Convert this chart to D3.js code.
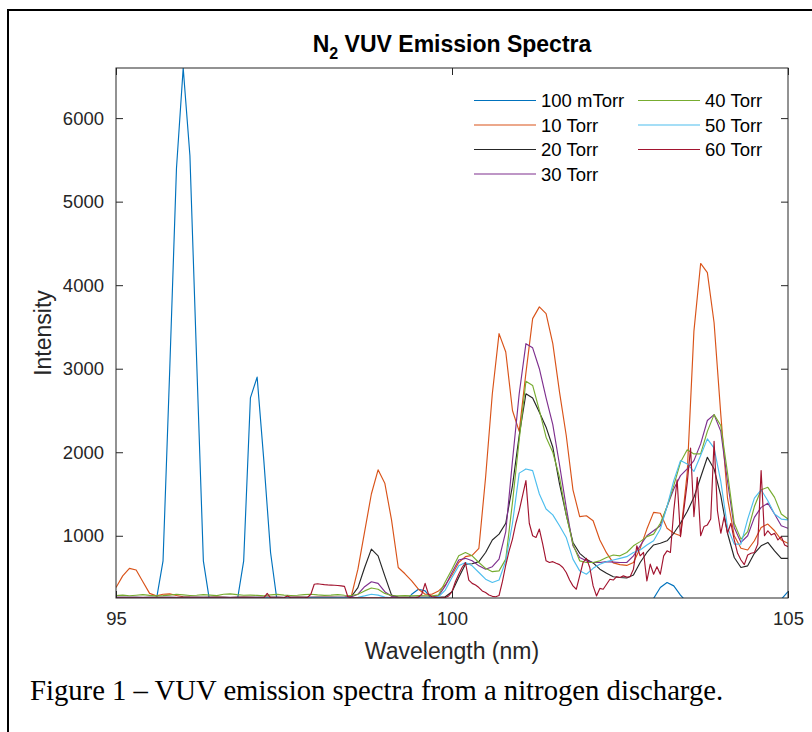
<!DOCTYPE html>
<html>
<head>
<meta charset="utf-8">
<script src="https://cdn.jsdelivr.net/npm/d3@7"></script>
<style>
  html, body { margin: 0; padding: 0; background: #ffffff; }
  svg { display: block; }
</style>
</head>
<body>
<svg id="chart" width="812" height="732"></svg>
<script>
// Sampling grids of the spectrometer scans (nm)
const gridStart = 95.0;
const coarseStep = 0.1;   // 101 samples, 95.0 – 105.0 nm
const fineStep = 0.05;    // 201 samples, used by the 60 Torr scan

const xTicks = [95, 100, 105];
const yTicks = [1000, 2000, 3000, 4000, 5000, 6000];

const seriesNames = ["100 mTorr", "10 Torr", "20 Torr", "30 Torr", "40 Torr", "50 Torr", "60 Torr"];
const seriesColors = ["#0072BD", "#D95319", "#262626", "#7E2F8E", "#77AC30", "#4DBEEE", "#A2142F"];

// Intensity (counts), one value per coarse grid step
const p100mTorr = [
  200,200,200,200,200,200,230,700,3000,5400,
  6600,5550,3100,700,180,200,200,200,200,700,
  2650,2900,1900,800,200,180,200,200,200,200,
  200,200,200,200,200,200,200,200,200,200,
  200,200,200,200,300,360,340,240,200,200,
  200,200,200,200,200,200,200,200,200,200,
  200,200,200,200,200,200,200,200,200,200,
  200,200,200,200,200,200,200,200,200,200,
  250,380,440,400,290,200,200,200,200,200,
  200,200,200,200,200,200,200,200,200,240,
  330
];
const p10Torr = [
  380,520,610,590,450,310,280,300,305,285,
  270,265,262,260,262,265,262,260,262,265,
  262,260,262,264,262,260,262,265,262,260,
  262,264,262,260,262,270,600,1050,1500,1790,
  1630,1190,620,545,460,360,300,300,340,410,
  530,680,750,765,850,1700,2700,3420,3200,2500,
  2250,2950,3600,3740,3660,3300,2720,2200,1550,1230,
  1240,1180,950,795,675,655,645,680,850,1080,
  1280,1270,1090,1030,1000,1750,3450,4260,4150,3550,
  2450,1450,1000,850,830,940,1100,1140,1060,950,
  910
];
const p20Torr = [
  262,262,263,262,261,262,263,262,262,261,
  262,262,262,263,262,262,262,261,262,262,
  262,263,262,262,262,261,262,262,263,262,
  262,262,262,262,262,270,380,620,840,760,
  520,290,265,262,262,262,262,262,263,270,
  330,500,660,665,690,800,950,1020,1150,1600,
  2200,2700,2650,2480,2300,2060,1620,1250,920,790,
  720,675,600,550,510,500,495,530,680,800,
  890,910,940,1030,1150,1290,1460,1700,1940,1800,
  1480,1030,740,620,640,790,880,920,820,730,
  730
];
const p30Torr = [
  262,263,262,264,262,263,262,262,264,263,
  262,263,264,262,263,262,262,263,262,264,
  263,262,262,264,263,262,263,262,262,263,
  262,264,263,262,263,268,300,390,450,430,
  330,275,265,263,262,263,264,263,280,400,
  560,710,730,700,640,600,630,720,1050,1900,
  2700,3300,3250,3000,2650,2330,1850,1340,880,740,
  700,680,680,690,685,680,680,760,880,1000,
  1060,1120,1350,1560,1720,1800,1900,2100,2380,2450,
  2250,1650,1100,920,1000,1220,1340,1390,1260,1120,
  1090
];
const p40Torr = [
  285,290,282,288,295,286,280,284,290,300,
  292,285,288,296,290,284,300,305,295,288,
  290,286,282,292,298,290,285,288,295,300,
  292,286,290,296,288,285,300,340,375,360,
  310,285,280,283,280,285,282,280,290,450,
  600,760,800,760,680,610,570,580,720,1400,
  2150,2850,2800,2500,2180,2000,1700,1250,900,700,
  680,680,700,740,770,760,800,880,930,990,
  1020,1150,1350,1600,1880,2030,1980,1980,2250,2450,
  2320,1750,1150,960,1050,1350,1550,1580,1460,1260,
  1200
];
const p50Torr = [
  258,258,258,258,258,258,258,258,258,258,
  258,258,258,258,258,258,258,258,258,258,
  258,258,258,258,258,258,258,258,258,258,
  258,258,258,258,258,258,262,280,300,290,
  265,258,258,258,258,258,258,258,270,350,
  500,640,680,640,560,480,440,470,700,1150,
  1750,1800,1780,1500,1320,1250,1120,980,720,580,
  540,610,660,690,710,730,750,800,830,890,
  940,1080,1350,1660,1900,1860,1770,1960,2160,2050,
  1650,1100,900,900,1200,1450,1550,1420,1260,1200,
  1190
];
// 60 Torr, one value per fine grid step
const p60Torr = [
  258,258,258,258,258,258,258,258,258,258,
  258,258,258,258,258,258,258,258,258,258,
  258,258,258,258,258,258,258,258,258,258,
  258,258,258,258,258,258,258,258,258,258,
  258,258,258,258,258,310,258,258,258,258,
  258,280,258,258,258,258,258,262,300,420,
  425,420,415,412,410,408,405,400,395,270,
  258,258,258,258,258,258,258,258,258,258,
  258,258,258,258,258,258,258,258,258,258,
  265,300,430,300,270,262,258,258,262,280,
  330,450,540,620,680,470,430,410,380,340,
  320,290,275,270,285,450,650,820,960,1150,
  1300,1480,1660,1150,1000,980,1080,900,700,680,
  690,670,655,620,560,470,400,360,520,680,
  730,620,400,280,370,360,420,480,470,510,
  500,520,505,510,600,880,760,800,460,660,
  540,630,540,760,820,800,1300,1670,990,1310,
  1630,2050,1230,1700,1000,1110,1130,1200,2130,1300,
  1030,1230,1030,1150,950,790,710,655,770,790,
  800,900,1780,1000,1060,1010,1030,950,990,890,
  870
];

const seriesValues = [p100mTorr, p10Torr, p20Torr, p30Torr, p40Torr, p50Torr, p60Torr];
const seriesSteps = [coarseStep, coarseStep, coarseStep, coarseStep, coarseStep, coarseStep, fineStep];

// ---- layout ----
const plot = { left: 116, right: 788, top: 68, bottom: 598 };
const axisColor = "#262626";
const sans = "'Liberation Sans', Arial, Helvetica, sans-serif";

const svg = d3.select("#chart");

// page frame around the figure
svg.append("path")
  .attr("d", "M8,740 V10 H820")
  .attr("fill", "none")
  .attr("stroke", "#000")
  .attr("stroke-width", 2);

const x = d3.scaleLinear().domain([95, 105]).range([plot.left, plot.right]);
const y = d3.scaleLinear().domain([255, 6600]).range([plot.bottom, plot.top]);

svg.append("defs").append("clipPath").attr("id", "plot-clip")
  .append("rect")
  .attr("x", plot.left).attr("y", plot.top)
  .attr("width", plot.right - plot.left).attr("height", plot.bottom - plot.top);

// spectra
const line = d3.line().x(d => x(d[0])).y(d => y(d[1]));
const gLines = svg.append("g").attr("clip-path", "url(#plot-clip)");
seriesValues.forEach((vals, k) => {
  const pts = vals.map((v, i) => [gridStart + i * seriesSteps[k], v]);
  gLines.append("path")
    .datum(pts)
    .attr("d", line)
    .attr("fill", "none")
    .attr("stroke", seriesColors[k])
    .attr("stroke-width", 1.15)
    .attr("stroke-linejoin", "round");
});

// axes (ticks point inward on all four sides)
const tickLen = 7;
function styleAxis(g) {
  g.select(".domain").remove();
  g.selectAll(".tick line").attr("stroke", axisColor);
  g.selectAll(".tick text").attr("fill", axisColor)
    .style("font-family", sans).style("font-size", "18.5px");
}
svg.append("g").attr("transform", `translate(0,${plot.bottom})`)
  .call(d3.axisBottom(x).tickValues(xTicks).tickFormat(d3.format("d"))
    .tickSizeInner(-tickLen).tickSizeOuter(0).tickPadding(14))
  .call(styleAxis);
svg.append("g").attr("transform", `translate(0,${plot.top})`)
  .call(d3.axisTop(x).tickValues(xTicks).tickFormat("")
    .tickSizeInner(-tickLen).tickSizeOuter(0))
  .call(styleAxis);
svg.append("g").attr("transform", `translate(${plot.left},0)`)
  .call(d3.axisLeft(y).tickValues(yTicks).tickFormat(d3.format("d"))
    .tickSizeInner(-tickLen).tickSizeOuter(0).tickPadding(12))
  .call(styleAxis);
svg.append("g").attr("transform", `translate(${plot.right},0)`)
  .call(d3.axisRight(y).tickValues(yTicks).tickFormat("")
    .tickSizeInner(-tickLen).tickSizeOuter(0))
  .call(styleAxis);

svg.append("rect")
  .attr("x", plot.left).attr("y", plot.top)
  .attr("width", plot.right - plot.left).attr("height", plot.bottom - plot.top)
  .attr("fill", "none").attr("stroke", axisColor).attr("stroke-width", 1);

// title with subscript
const title = svg.append("text")
  .attr("x", (plot.left + plot.right) / 2).attr("y", 52)
  .attr("text-anchor", "middle")
  .style("font-family", sans).style("font-size", "23px").style("font-weight", "bold")
  .attr("fill", "#000");
title.append("tspan").text("N");
title.append("tspan").attr("dy", 7).style("font-size", "16px").text("2");
title.append("tspan").attr("dy", -7).text(" VUV Emission Spectra");

// axis labels
svg.append("text")
  .attr("x", (plot.left + plot.right) / 2).attr("y", 659)
  .attr("text-anchor", "middle")
  .style("font-family", sans).style("font-size", "23px")
  .attr("fill", axisColor)
  .text("Wavelength (nm)");
svg.append("text")
  .attr("transform", `translate(51,${(plot.top + plot.bottom) / 2}) rotate(-90)`)
  .attr("text-anchor", "middle")
  .style("font-family", sans).style("font-size", "23px")
  .attr("fill", axisColor)
  .text("Intensity");

// legend, two columns, no box
const legendCols = [{ x: 474, start: 0, count: 4 }, { x: 638, start: 4, count: 3 }];
const legendRowY = [100.5, 125, 149.5, 174];
const legend = svg.append("g");
legendCols.forEach(col => {
  for (let r = 0; r < col.count; r++) {
    const k = col.start + r;
    legend.append("line")
      .attr("x1", col.x).attr("x2", col.x + 62)
      .attr("y1", legendRowY[r]).attr("y2", legendRowY[r])
      .attr("stroke", seriesColors[k]).attr("stroke-width", 1.15);
    legend.append("text")
      .attr("x", col.x + 67).attr("y", legendRowY[r] + 6.5)
      .style("font-family", sans).style("font-size", "18.5px")
      .attr("fill", "#000")
      .text(seriesNames[k]);
  }
});

// figure caption
svg.append("text")
  .attr("x", 30).attr("y", 700)
  .style("font-family", "'Liberation Serif', 'Times New Roman', serif")
  .style("font-size", "28.7px")
  .attr("fill", "#000")
  .text("Figure 1 \u2013 VUV emission spectra from a nitrogen discharge.");
</script>
</body>
</html>
